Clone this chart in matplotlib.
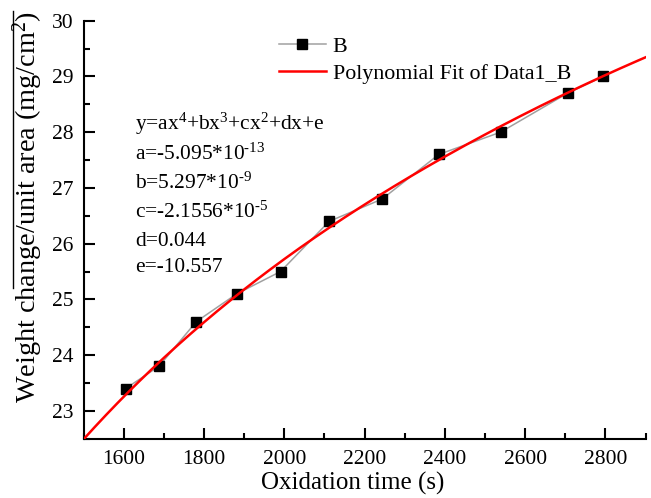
import numpy as np
import matplotlib
matplotlib.use("Agg")
import matplotlib.pyplot as plt
from matplotlib.lines import Line2D
from matplotlib.ticker import MultipleLocator

plt.rcParams['font.family'] = ['Liberation Serif', 'DejaVu Serif']
plt.rcParams['mathtext.fontset'] = 'custom'
plt.rcParams['mathtext.rm'] = 'Liberation Serif'
plt.rcParams['mathtext.it'] = 'Liberation Serif:italic'

# data
time_s = [1605, 1688, 1781, 1882, 1991, 2112, 2244, 2385, 2539, 2706, 2795]
weight = [23.4, 23.8, 24.6, 25.1, 25.5, 26.4, 26.8, 27.6, 28.0, 28.7, 29.0]
# points
fit_x = [1500, 1541, 1641, 1688, 1882, 1916, 2040, 2112, 2244, 2415, 2431, 2706, 2795, 2897]
fit_y = [22.5, 22.80, 23.55, 23.85, 25.10, 25.26, 25.88, 26.36, 26.87, 27.61, 27.68, 28.73, 29.0, 29.33]
fit_lines = [
    r"y=ax$^{4}$+bx$^{3}$+cx$^{2}$+dx+e",
    r"a=-5.095*10$^{\text{-}13}$",
    r"b=5.297*10$^{\text{-}9}$",
    r"c=-2.1556*10$^{\text{-}5}$",
    r"d=0.044",
    r"e=-10.557",
]

W, H = 651, 498
fig = plt.figure(figsize=(W / 100, H / 100), dpi=100)
L, R, B, T = 83.5, 645.5, 438.7, 20.7
ax = fig.add_axes([L / W, 1 - B / H, (R - L) / W, (B - T) / H])

coef = np.polyfit(fit_x, fit_y, 4)
xf = np.linspace(1500, 2900, 300)
yf = np.polyval(coef, xf)

ax.plot(time_s, weight, color='#a0a0a0', lw=1.1, marker='s', ms=7,
        mfc='black', mec='black', label='B', zorder=3)
ax.plot(xf, yf, color='#ff0000', lw=1.8, label='Polynomial Fit of Data1_B', zorder=4)

ax.set_xlim(1500, 2900)
ax.set_ylim(22.5, 30)
ax.xaxis.set_major_locator(MultipleLocator(200))
ax.xaxis.set_minor_locator(MultipleLocator(100))
ax.yaxis.set_major_locator(MultipleLocator(1))
ax.yaxis.set_minor_locator(MultipleLocator(0.5))
ax.tick_params(which='major', direction='in', length=8, width=1.5, labelsize=15.5)
ax.tick_params(axis='x', which='major', pad=8)
ax.tick_params(axis='y', which='major', pad=7)
ax.tick_params(which='minor', direction='in', length=4.5, width=1.5)
ax.spines['top'].set_visible(False)
ax.spines['right'].set_visible(False)
for s in ('left', 'bottom'):
    ax.spines[s].set_linewidth(1.5)

ax.set_xlabel('Oxidation time (s)', fontsize=18)
ax.xaxis.set_label_coords((353 - L) / (R - L), (B - 472) / (B - T))
ax.set_ylabel('Weight change/unit area (mg/cm$^{2}$)', fontsize=20.3)
ax.yaxis.set_label_coords((45 - L) / (R - L), (B - 207) / (B - T))

ax.legend(loc='upper left', bbox_to_anchor=((270 - L) / (R - L), (B - 28) / (B - T)),
          frameon=False, fontsize=15.8, handlelength=2.15, handletextpad=0.3,
          labelspacing=0.3, borderaxespad=0)

ys = [124, 154, 183, 212, 241, 268]
for txt, yp in zip(fit_lines, ys):
    ax.text((135 - L) / (R - L), (B - yp) / (B - T), txt, transform=ax.transAxes,
            fontsize=15.4, va='center', ha='left')

fig.add_artist(Line2D([12.7 / W, 12.7 / W], [1 - 11 / H, 1 - 288 / H],
                      transform=fig.transFigure, color='black', lw=1))

fig.savefig('out.png', dpi=100)
